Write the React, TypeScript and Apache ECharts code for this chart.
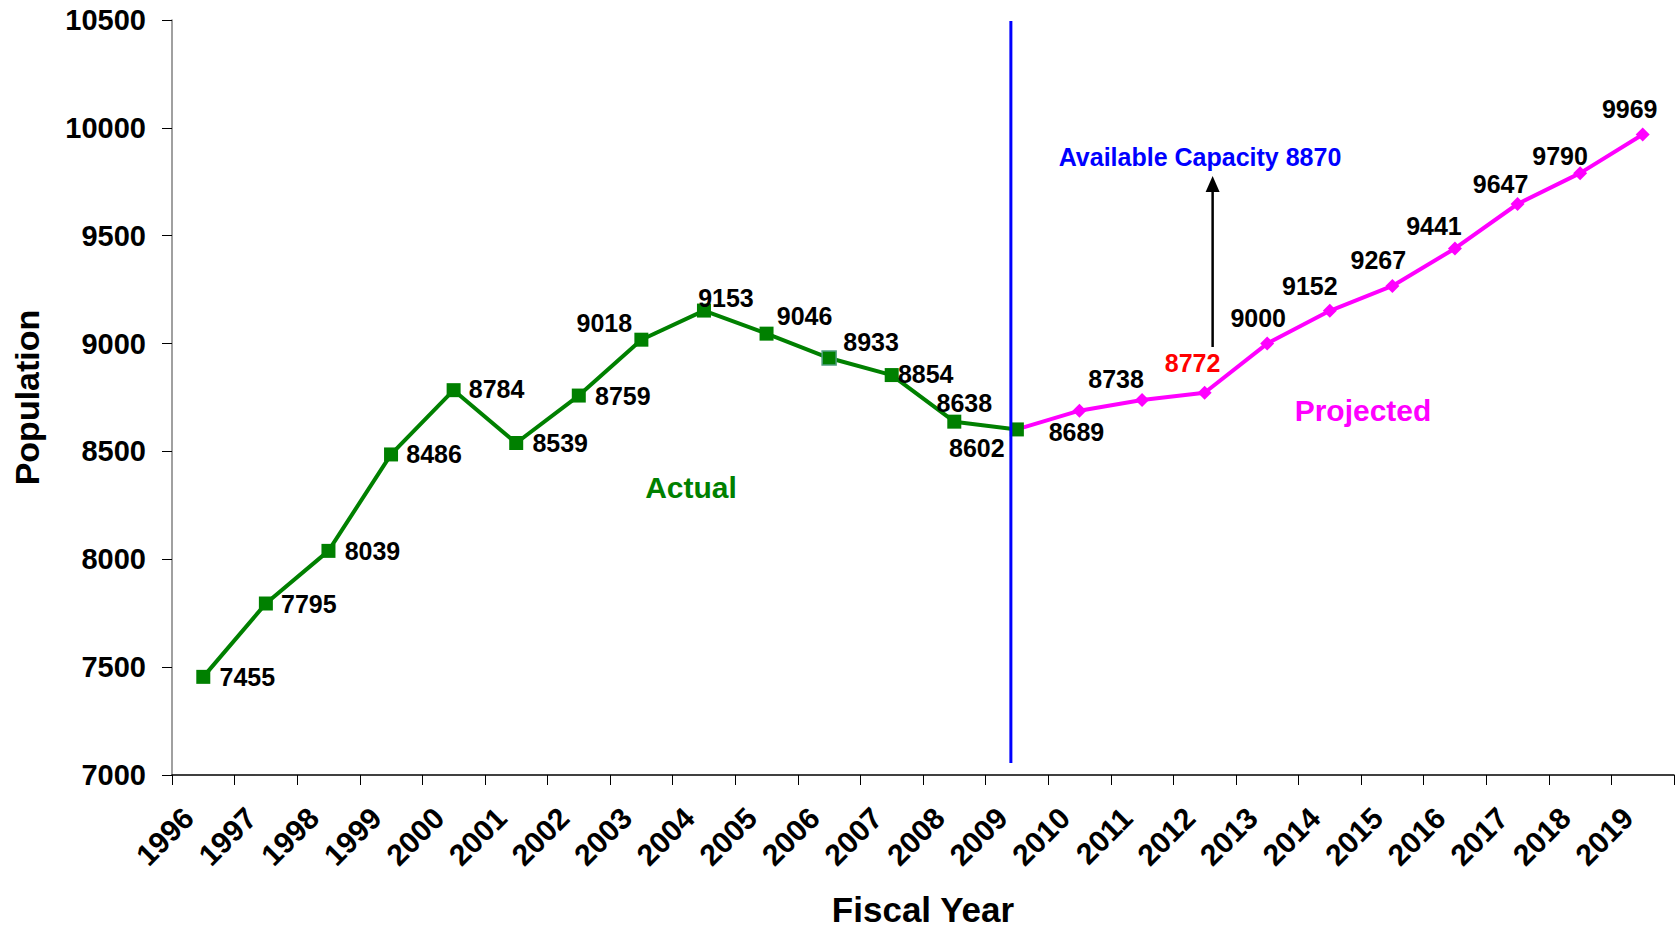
import React, { useEffect, useRef } from "react";
import * as echarts from "echarts";

const years = [
  "1996", "1997", "1998", "1999", "2000", "2001", "2002", "2003", "2004", "2005", "2006", "2007",
  "2008", "2009", "2010", "2011", "2012", "2013", "2014", "2015", "2016", "2017", "2018", "2019",
];
const actual = [7455, 7795, 8039, 8486, 8784, 8539, 8759, 9018, 9153, 9046, 8933, 8854, 8638, 8602];
// projected series begins at FY2009 (shared point with actual)
const projectedStartYear = "2009";
const projected = [8602, 8689, 8738, 8772, 9000, 9152, 9267, 9441, 9647, 9790, 9969];
const capacityText = "Available Capacity 8870";
const yMin = 7000;
const yMax = 10500;
const yInterval = 500;

// label placement (style only)
const actualLabelOffsets: [number, number][] = [
  [44, 0], [43, 0], [44, 0], [43, 0], [43, -1], [44, 0], [44, 0],
  [-37, -17], [22, -13], [38, -18], [42, -16], [34, -1], [10, -19], [-40, 19],
];
const projectedLabelOffsets: [number, number][] = [
  [0, 0], [-3, 21], [-26, -21], [-12, -30], [-9, -26], [-20, -25], [-14, -26], [-21, -22],
  [-17, -20], [-20, -17], [-13, -26],
];

const FONT = "'Liberation Sans', Arial, Helvetica, sans-serif";
const GREEN = "#008000";
const MAGENTA = "#ff00ff";

export default function App() {
  const ref = useRef<HTMLDivElement>(null);
  useEffect(() => {
    if (!ref.current) return;
    const chart = echarts.init(ref.current, null, { renderer: "svg" });
    const labelBase = {
      show: true,
      position: "inside",
      color: "#000",
      fontFamily: FONT,
      fontWeight: "bold",
      fontSize: 25,
    };
    const actualData = actual.map((v, i) => ({
      value: v,
      label: { ...labelBase, offset: actualLabelOffsets[i] },
      ...(years[i] === "2006"
        ? { itemStyle: { color: GREEN, borderColor: "#4f9f80", borderWidth: 1.5 } }
        : {}),
    }));
    const startIdx = years.indexOf(projectedStartYear);
    const projectedData: any[] = years.map(() => null);
    projected.forEach((v, j) => {
      const isFirst = j === 0;
      projectedData[startIdx + j] = {
        value: v,
        symbol: isFirst ? "none" : "diamond",
        label: isFirst
          ? { show: false }
          : {
              ...labelBase,
              offset: projectedLabelOffsets[j],
              color: years[startIdx + j] === "2012" ? "#ff0000" : "#000",
            },
      };
    });

    chart.setOption({
      animation: false,
      backgroundColor: "#ffffff",
      grid: {
        left: 172,
        top: 20,
        right: 1,
        bottom: 157,
        containLabel: false,
        outerBoundsMode: "none",
      },
      xAxis: {
        type: "category",
        data: years,
        boundaryGap: true,
        name: "Fiscal Year",
        nameLocation: "middle",
        nameGap: 117,
        nameTextStyle: { fontFamily: FONT, fontWeight: "bold", fontSize: 35, color: "#000" },
        axisLine: { lineStyle: { color: "#000", width: 1.5 } },
        axisTick: { show: true, length: 10, lineStyle: { color: "#000", width: 1 } },
        axisLabel: {
          rotate: 45,
          margin: 23,
          padding: [0, 21, 0, 0],
          interval: 0,
          fontFamily: FONT,
          fontWeight: "bold",
          fontSize: 30,
          color: "#000",
        },
        splitLine: { show: false },
      },
      yAxis: {
        type: "value",
        min: yMin,
        max: yMax,
        interval: yInterval,
        name: "Population",
        nameLocation: "middle",
        nameRotate: 90,
        nameGap: 128,
        nameTextStyle: { fontFamily: FONT, fontWeight: "bold", fontSize: 34, color: "#000" },
        axisLine: { show: true, lineStyle: { color: "#808080", width: 1.5 } },
        axisTick: { show: true, length: 10, lineStyle: { color: "#000", width: 1 } },
        axisLabel: {
          margin: 26,
          formatter: (v: number) => String(v),
          fontFamily: FONT,
          fontWeight: "bold",
          fontSize: 29,
          color: "#000",
        },
        splitLine: { show: false },
      },
      series: [
        {
          name: "Projected",
          type: "line",
          data: projectedData,
          symbol: "diamond",
          symbolSize: 14,
          lineStyle: { color: MAGENTA, width: 4 },
          itemStyle: { color: MAGENTA },
          z: 2,
        },
        {
          name: "Actual",
          type: "line",
          data: actualData,
          symbol: "rect",
          symbolSize: 14,
          lineStyle: { color: GREEN, width: 4 },
          itemStyle: { color: GREEN },
          z: 3,
        },
      ],
    });

    const px = (cat: string, val: number) =>
      chart.convertToPixel({ xAxisIndex: 0, yAxisIndex: 0 }, [cat, val]) as number[];
    const p2009 = px("2009", yMax);
    const p2012 = px("2012", yMax);
    const lineX = p2009[0] - 6;
    const arrowX = p2012[0] + 8;

    chart.setOption({
      graphic: [
        {
          type: "line",
          shape: { x1: lineX, y1: 21, x2: lineX, y2: 763 },
          style: { stroke: "#0000ff", lineWidth: 3 },
          z: 10,
        },
        {
          type: "line",
          shape: { x1: arrowX, y1: 347, x2: arrowX, y2: 188 },
          style: { stroke: "#000", lineWidth: 2.5 },
          z: 10,
        },
        {
          type: "polygon",
          shape: { points: [[arrowX, 176], [arrowX - 7, 192], [arrowX + 7, 192]] },
          style: { fill: "#000" },
          z: 10,
        },
        {
          type: "text",
          x: 1200,
          y: 157,
          style: {
            text: capacityText,
            textAlign: "center",
            textVerticalAlign: "middle",
            fontFamily: FONT,
            fontWeight: "bold",
            fontSize: 25,
            fill: "#0000ff",
          },
          z: 10,
        },
        {
          type: "text",
          x: 691,
          y: 487,
          style: {
            text: "Actual",
            textAlign: "center",
            textVerticalAlign: "middle",
            fontFamily: FONT,
            fontWeight: "bold",
            fontSize: 30,
            fill: GREEN,
          },
          z: 10,
        },
        {
          type: "text",
          x: 1363,
          y: 410,
          style: {
            text: "Projected",
            textAlign: "center",
            textVerticalAlign: "middle",
            fontFamily: FONT,
            fontWeight: "bold",
            fontSize: 30,
            fill: MAGENTA,
          },
          z: 10,
        },
      ],
    });

    return () => chart.dispose();
  }, []);
  return (
    <div
      ref={ref}
      style={{ position: "fixed", left: 0, top: 0, width: 1675, height: 932, background: "#fff" }}
    />
  );
}
